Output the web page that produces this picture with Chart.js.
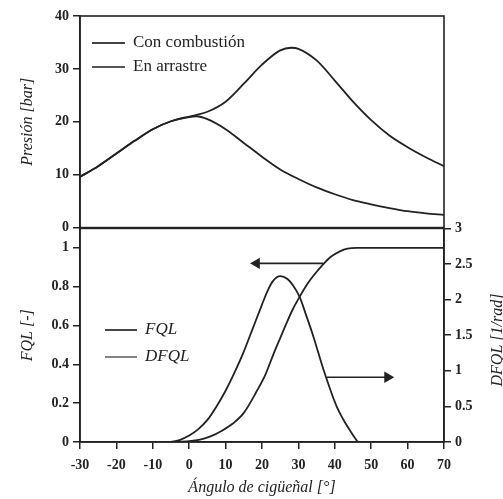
<!DOCTYPE html>
<html>
<head>
    <style>
        body { margin: 0; background: #fff; }
        #wrap { position: relative; width: 503px; height: 499px; overflow: hidden; }
        canvas { position: absolute; left: 0; }
        #presionChart { top: 0; }
        #fqlChart { top: 216px; }
    </style>
</head>
<body>
    <div id="wrap">
        <canvas id="presionChart" width="503" height="240"></canvas>
        <canvas id="fqlChart" width="503" height="283"></canvas>
    </div>

    <script src="https://cdn.jsdelivr.net/npm/chart.js@4/dist/chart.umd.min.js"></script>
    <script>
        // Presión en cilindro
        const anguloP = [-30, -25, -20, -15, -10, -5, 0, 2, 5, 10, 15, 20, 25, 28, 30, 35, 40, 45, 50, 55, 60, 65, 70];
        const presionCombustion = [9.6, 11.6, 14.0, 16.4, 18.6, 20.1, 21.0, 21.3, 21.9, 23.8, 27.2, 30.8, 33.5, 34.0, 33.8, 31.6, 27.8, 23.8, 20.3, 17.4, 15.2, 13.3, 11.6];
        const anguloA = [-30, -25, -20, -15, -10, -5, 0, 2, 5, 10, 15, 20, 25, 30, 35, 40, 45, 50, 55, 60, 65, 70];
        const presionArrastre = [9.6, 11.6, 14.0, 16.4, 18.6, 20.1, 20.9, 21.05, 20.5, 18.6, 16.0, 13.4, 11.0, 9.2, 7.6, 6.3, 5.2, 4.4, 3.7, 3.1, 2.7, 2.4];

        // Fracción de calor liberado
        const anguloF = [-5, 0, 3, 6, 9, 12, 15, 18.5, 21, 23.1, 25, 26.8, 28.5, 30.4, 32.5, 34.5, 36.8, 39, 41.4, 43.5, 46, 50, 70];
        const fql = [0, 0.004, 0.012, 0.03, 0.058, 0.095, 0.15, 0.26, 0.35, 0.45, 0.535, 0.615, 0.685, 0.75, 0.815, 0.865, 0.915, 0.955, 0.982, 0.996, 1, 1, 1];
        const anguloD = [-5, -2.5, 0, 2.5, 5, 7.5, 10, 12.5, 15, 17.5, 20, 21.5, 23, 25, 27, 28.5, 30.4, 32, 34, 37, 40.5, 42.3, 44.2, 45.5, 46.5, 50, 70];
        const dfql = [0, 0.03, 0.09, 0.18, 0.31, 0.5, 0.72, 0.98, 1.27, 1.6, 1.93, 2.12, 2.26, 2.33, 2.29, 2.2, 2.03, 1.8, 1.5, 1.0, 0.5, 0.32, 0.16, 0.06, 0, 0, 0];

        // flechas
        const flechaFqlX = [36.8, 18.5];
        const flechaFqlY = [0.92, 0.92];
        const flechaDfqlX = [37.8, 54.5];
        const flechaDfqlY = [0.91, 0.91];

        const xTicks = [-30, 70, 10];
        const ink = '#222';
        const serif = '"Liberation Serif", "Times New Roman", serif';

        function points(xs, ys) {
            return xs.map((x, i) => ({ x: x, y: ys[i] }));
        }

        function shortNumber(value) {
            return String(Number(value.toFixed(2)));
        }

        function lineDataset(label, data, axis) {
            return {
                label: label,
                data: data,
                yAxisID: axis,
                borderColor: ink,
                borderWidth: 1.8,
                pointRadius: 0,
                fill: false,
                cubicInterpolationMode: 'monotone'
            };
        }

        function arrowDataset(data, axis, rotation) {
            return {
                label: '',
                data: data,
                yAxisID: axis,
                borderColor: ink,
                backgroundColor: ink,
                borderWidth: 1.6,
                pointStyle: 'triangle',
                pointRadius: [0, 5],
                pointRotation: rotation,
                fill: false
            };
        }

        const boxPlugin = {
            id: 'box',
            afterDatasetsDraw(chart) {
                const a = chart.chartArea;
                const ctx = chart.ctx;
                ctx.save();
                ctx.strokeStyle = ink;
                ctx.lineWidth = 1.6;
                ctx.strokeRect(a.left, a.top, a.right - a.left, a.bottom - a.top);
                ctx.restore();
            }
        };

        function legendPlugin(items, x0, x1, italic) {
            return {
                id: 'legendInside',
                afterDraw(chart) {
                    const ctx = chart.ctx;
                    ctx.save();
                    items.forEach(item => {
                        ctx.strokeStyle = item.color;
                        ctx.lineWidth = 1.8;
                        ctx.beginPath();
                        ctx.moveTo(x0, item.y);
                        ctx.lineTo(x1, item.y);
                        ctx.stroke();
                        ctx.fillStyle = ink;
                        ctx.font = (italic ? 'italic ' : '') + '17px ' + serif;
                        ctx.textBaseline = 'middle';
                        ctx.fillText(item.text, x1 + 8, item.y);
                    });
                    ctx.restore();
                }
            };
        }

        const tickFont = { family: serif, size: 14, weight: 'bold' };
        const titleFont = { family: serif, size: 16, style: 'italic' };

        new Chart(document.getElementById('presionChart'), {
            type: 'line',
            data: {
                datasets: [
                    lineDataset('Con combustión', points(anguloP, presionCombustion), 'y'),
                    lineDataset('En arrastre', points(anguloA, presionArrastre), 'y')
                ]
            },
            options: {
                responsive: false,
                animation: false,
                layout: { padding: { top: 16, right: 59, bottom: 11, left: 0 } },
                plugins: { legend: { display: false }, tooltip: { enabled: false } },
                scales: {
                    x: { type: 'linear', min: xTicks[0], max: xTicks[1], display: false },
                    y: {
                        min: 0, max: 40,
                        ticks: { stepSize: 10, color: ink, font: tickFont, padding: 4 },
                        grid: { drawOnChartArea: false, tickLength: 7, color: ink, lineWidth: 1.5 },
                        border: { color: ink, width: 1.6 },
                        title: { display: true, text: 'Presión [bar]', color: ink, font: titleFont, padding: { top: 18, bottom: 0 } },
                        afterFit(scale) { scale.width = 80; }
                    }
                }
            },
            plugins: [boxPlugin, legendPlugin([
                { y: 43, text: 'Con combustión', color: '#444' },
                { y: 67, text: 'En arrastre', color: '#555' }
            ], 92, 125, false)]
        });

        const rightTitlePlugin = {
            id: 'rightTitle',
            afterDraw(chart) {
                const ctx = chart.ctx;
                ctx.save();
                ctx.translate(498, 340 - 216);
                ctx.rotate(-Math.PI / 2);
                ctx.fillStyle = ink;
                ctx.font = 'italic 16px ' + serif;
                ctx.textAlign = 'center';
                ctx.textBaseline = 'middle';
                ctx.fillText('DFQL [1/rad]', 0, 0);
                ctx.restore();
            }
        };

        new Chart(document.getElementById('fqlChart'), {
            type: 'line',
            data: {
                datasets: [
                    lineDataset('FQL', points(anguloF, fql), 'y'),
                    lineDataset('DFQL', points(anguloD, dfql), 'y2'),
                    arrowDataset(points(flechaFqlX, flechaFqlY), 'y', 270),
                    arrowDataset(points(flechaDfqlX, flechaDfqlY), 'y2', 90)
                ]
            },
            options: {
                responsive: false,
                animation: false,
                layout: { padding: { top: 5, right: 0, bottom: 0, left: 0 } },
                plugins: { legend: { display: false }, tooltip: { enabled: false } },
                scales: {
                    x: {
                        type: 'linear', min: xTicks[0], max: xTicks[1],
                        ticks: { stepSize: xTicks[2], color: ink, font: tickFont, padding: 8 },
                        grid: { drawOnChartArea: false, tickLength: 7, color: ink, lineWidth: 1.5 },
                        border: { color: ink, width: 1.6 },
                        title: { display: true, text: 'Ángulo de cigüeñal [°]', color: ink, font: titleFont, padding: { top: 0, bottom: 2 } },
                        afterFit(scale) { scale.height = 57; }
                    },
                    y: {
                        position: 'left',
                        min: 0, max: 1.1,
                        ticks: { stepSize: 0.2, includeBounds: false, color: ink, font: tickFont, padding: 4, callback: shortNumber },
                        grid: { drawOnChartArea: false, tickLength: 7, color: ink, lineWidth: 1.5 },
                        border: { color: ink, width: 1.6 },
                        title: { display: true, text: 'FQL [-]', color: ink, font: titleFont, padding: { top: 18, bottom: 0 } },
                        afterFit(scale) { scale.width = 80; }
                    },
                    y2: {
                        position: 'right',
                        min: 0, max: 3,
                        ticks: { stepSize: 0.5, color: ink, font: tickFont, padding: 4, callback: shortNumber },
                        grid: { drawOnChartArea: false, tickLength: 7, color: ink, lineWidth: 1.5 },
                        border: { color: ink, width: 1.6 },
                        afterFit(scale) { scale.width = 59; }
                    }
                }
            },
            plugins: [boxPlugin, rightTitlePlugin, legendPlugin([
                { y: 330 - 216, text: 'FQL', color: '#333' },
                { y: 357 - 216, text: 'DFQL', color: '#777' }
            ], 105, 137, true)]
        });
    </script>
</body>
</html>
